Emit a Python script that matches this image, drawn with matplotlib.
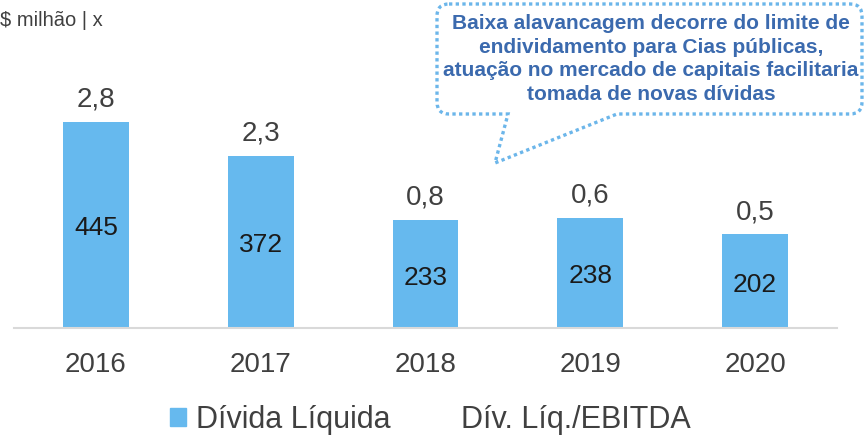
import matplotlib
matplotlib.use("Agg")
import matplotlib.pyplot as plt
from matplotlib.path import Path
from matplotlib.patches import PathPatch, Rectangle
from matplotlib.lines import Line2D

plt.rcParams['font.family'] = ['Liberation Sans', 'DejaVu Sans']

years = ["2016", "2017", "2018", "2019", "2020"]
divida_liquida = [445, 372, 233, 238, 202]
div_ebitda = ["2,8", "2,3", "0,8", "0,6", "0,5"]

W, H = 866, 436
fig = plt.figure(figsize=(W / 100, H / 100), dpi=100)

bar_color = "#66B9EE"
text_color = "#404040"

# axes: x from 13.6px to 837.4px, bottom at 328px, top at 0px
ax = fig.add_axes([13.6 / W, 1 - 328 / H, 823.8 / W, 328 / H])
x = list(range(len(years)))
bars = ax.bar(x, divida_liquida, width=0.40, color=bar_color, zorder=2)
ax.set_xlim(-0.5, 4.5)
ax.set_ylim(0, 708.5)

for s in ["top", "right", "left"]:
    ax.spines[s].set_visible(False)
ax.spines["bottom"].set_color("#D9D9D9")
ax.spines["bottom"].set_linewidth(1.5)
ax.set_yticks([])
ax.set_xticks(x)
ax.set_xticklabels(years, fontsize=20, color=text_color)
ax.tick_params(axis="x", length=0, pad=17)

for xi, v, r in zip(x, divida_liquida, div_ebitda):
    ax.annotate(str(v), (xi, v / 2), xytext=(0, -2.5), textcoords="offset points",
                ha="center", va="center", fontsize=19, color="#1A1A1A")
    ax.annotate(r, (xi, v), xytext=(0, 16), textcoords="offset points",
                ha="center", va="center", fontsize=20, color=text_color)

# unit label
fig.text(0 / W, 1 - 20 / H, "$ milhão | x", ha="left", va="center", fontsize=14.5, color=text_color)

# legend
h1 = Rectangle((0, 0), 1, 1, color=bar_color)
h2 = Line2D([], [], color="none")
fig.legend([h1, h2], ["Dívida Líquida", "Dív. Líq./EBITDA"], loc="center",
           bbox_to_anchor=(430.5 / W, 1 - 420 / H), ncol=2, frameon=False,
           fontsize=22, labelcolor=text_color, handlelength=0.5, handleheight=0.5,
           handletextpad=0.33, columnspacing=1.47)

# callout bubble (pixel coordinates, top-left origin)
L, R, T, B, r = 437, 862, 4, 114, 12
pb1, pb2, tip = 508, 617, (495, 163)
pts = [
    ((L + r, T), Path.MOVETO),
    ((R - r, T), Path.LINETO),
    ((R, T), Path.CURVE3), ((R, T + r), Path.CURVE3),
    ((R, B - r), Path.LINETO),
    ((R, B), Path.CURVE3), ((R - r, B), Path.CURVE3),
    ((pb2, B), Path.LINETO),
    (tip, Path.LINETO),
    ((pb1, B), Path.LINETO),
    ((L + r, B), Path.LINETO),
    ((L, B), Path.CURVE3), ((L, B - r), Path.CURVE3),
    ((L, T + r), Path.LINETO),
    ((L, T), Path.CURVE3), ((L + r, T), Path.CURVE3),
    ((L + r, T), Path.CLOSEPOLY),
]
verts = [(px / W, 1 - py / H) for (px, py), _ in pts]
codes = [c for _, c in pts]
bubble = PathPatch(Path(verts, codes), transform=fig.transFigure, facecolor="white",
                   edgecolor="#6CB6EA", linewidth=2.4, linestyle=(0, (1, 1)),
                   capstyle="butt", zorder=5)
fig.patches.append(bubble)

fig.text(651 / W, 1 - 59 / H,
         "Baixa alavancagem decorre do limite de\nendividamento para Cias públicas,\n"
         "atuação no mercado de capitais facilitaria\ntomada de novas dívidas",
         ha="center", va="center", fontsize=15, fontweight="bold", color="#3B6AAE",
         linespacing=1.33, zorder=6)

fig.savefig("out.png", dpi=100)
